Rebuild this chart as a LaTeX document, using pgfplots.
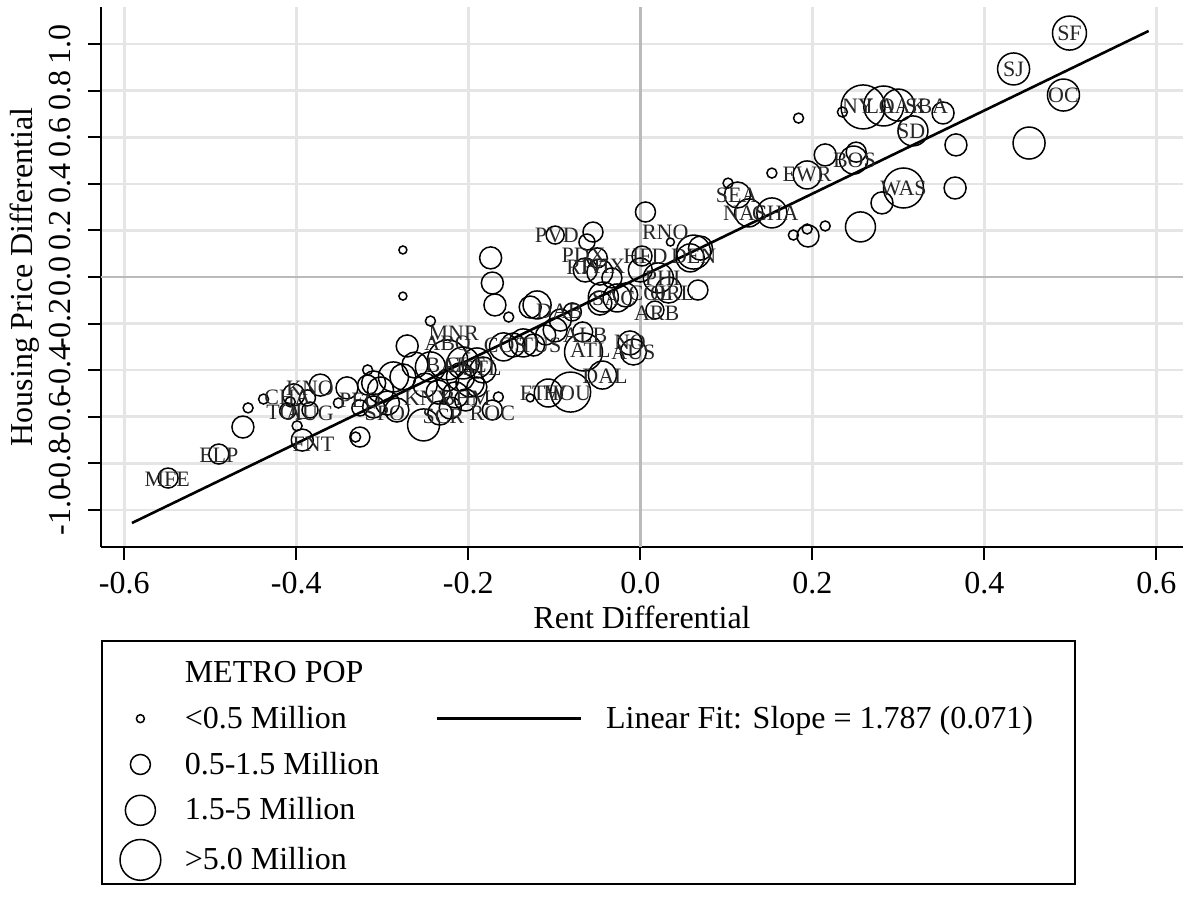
\documentclass[border=0pt]{standalone}
\usepackage{fontspec}
\setmainfont{Liberation Serif}
\usepackage{pgfplots}
\pgfplotsset{compat=1.18}
\usepackage{pgfplotstable}

\pgfplotstableread{
x y r
0.499 1.047 8.5
0.434 0.893 8
0.492 0.781 8
0.452 0.575 8
0.367 0.567 5.5
0.366 0.382 5.5
0.352 0.704 5.5
0.259 0.730 11
0.283 0.734 10
0.300 0.738 8
0.317 0.627 7.5
0.235 0.708 2.5
0.184 0.682 2.5
0.248 0.502 7
0.251 0.536 5
0.215 0.524 5.5
0.194 0.438 7
0.153 0.446 2.5
0.113 0.352 6.5
0.102 0.403 2.5
0.126 0.275 7
0.153 0.275 7.5
0.306 0.382 10
0.281 0.318 5.5
0.256 0.215 7.5
0.178 0.180 2.5
0.195 0.176 5.5
0.194 0.206 2.5
0.215 0.219 2.5
0.006 0.279 5
0.035 0.150 2
0.062 0.107 8.5
0.058 0.082 7
0.070 0.124 6
0.021 -0.004 7.5
0.067 -0.056 5
0.017 -0.142 4.5
-0.043 -0.086 7.5
-0.027 -0.090 7
-0.017 -0.077 6
-0.047 -0.112 6
0.033 -0.056 6.5
0.000 0.030 6
0.002 0.090 5
-0.099 0.180 4.5
-0.055 0.193 5
-0.062 0.150 4
-0.050 0.082 5
-0.064 0.030 6
-0.047 0.021 6.5
-0.033 -0.004 5
-0.174 0.082 5.5
-0.172 -0.026 5.5
-0.169 -0.120 5.5
-0.153 -0.172 2.5
-0.128 -0.129 5.5
-0.120 -0.120 7
-0.067 -0.236 5
-0.066 -0.322 9.5
-0.012 -0.283 6
-0.008 -0.322 6.5
-0.044 -0.421 7
-0.107 -0.498 7
-0.081 -0.494 10
-0.128 -0.519 2
-0.159 -0.300 7
-0.148 -0.292 6
-0.136 -0.283 7
-0.124 -0.292 5.5
-0.110 -0.249 5
-0.099 -0.227 6
-0.093 -0.185 5.5
-0.079 -0.150 4.5
-0.271 -0.296 5.5
-0.244 -0.189 2.5
-0.276 -0.082 2
-0.276 0.116 2
-0.244 -0.386 7.5
-0.224 -0.356 10
-0.206 -0.369 8
-0.190 -0.369 7.5
-0.183 -0.399 6.5
-0.209 -0.429 7
-0.224 -0.442 5.5
-0.198 -0.455 7
-0.190 -0.472 5
-0.165 -0.515 2.5
-0.172 -0.571 5
-0.233 -0.584 6
-0.252 -0.635 8
-0.221 -0.562 5.5
-0.317 -0.464 5
-0.310 -0.455 6
-0.302 -0.485 6.5
-0.287 -0.429 7.5
-0.276 -0.429 6.5
-0.317 -0.399 2.5
-0.294 -0.541 6
-0.283 -0.571 6
-0.310 -0.558 5.5
-0.326 -0.562 4
-0.326 -0.687 5
-0.331 -0.687 2.5
-0.341 -0.476 5.5
-0.351 -0.541 2.5
-0.372 -0.464 5.5
-0.387 -0.519 4
-0.403 -0.506 5.5
-0.407 -0.536 2.5
-0.399 -0.639 2.5
-0.393 -0.700 5.5
-0.438 -0.524 2.5
-0.456 -0.562 2.5
-0.462 -0.644 5.5
-0.490 -0.760 5
-0.549 -0.863 5
-0.410 -0.575 4
-0.384 -0.571 4
-0.262 -0.378 6.5
-0.250 -0.464 6
-0.235 -0.494 6
-0.215 -0.506 6.5
-0.203 -0.528 5.5
}\metros

\pgfplotstableread{
x y lab
0.499 1.047 SF
0.434 0.893 SJ
0.492 0.781 OC
0.253 0.734 NY
0.279 0.734 LA
0.305 0.734 OAK
0.333 0.734 SBA
0.315 0.627 SD
0.249 0.502 BOS
0.194 0.438 EWR
0.112 0.352 SEA
0.122 0.275 NAS
0.157 0.275 CHA
0.306 0.382 WAS
0.029 0.193 RNO
0.006 0.090 HFD
0.062 0.090 DEN
-0.097 0.180 PVD
-0.066 0.094 PDX
-0.064 0.039 RIV
-0.043 0.047 PHX
0.026 -0.004 PHI
0.012 -0.069 COL
0.037 -0.069 ORL
-0.031 -0.090 SAC
0.019 -0.155 ARB
-0.094 -0.146 DAB
-0.064 -0.249 ALB
-0.058 -0.313 ATL
-0.012 -0.279 NO
-0.008 -0.322 AUS
-0.041 -0.425 DAL
-0.113 -0.498 FTW
-0.085 -0.498 HOU
-0.217 -0.240 MNR
-0.224 -0.292 ABQ
-0.157 -0.292 COS
-0.116 -0.292 TUS
-0.224 -0.378 BAL
-0.203 -0.378 CLE
-0.184 -0.391 STL
-0.247 -0.519 KNX
-0.203 -0.519 BHM
-0.229 -0.597 SCR
-0.172 -0.584 ROC
-0.550 -0.867 MFE
-0.490 -0.764 ELP
-0.380 -0.717 FNT
-0.410 -0.515 CHA
-0.384 -0.476 KNO
-0.410 -0.579 TOL
-0.384 -0.584 AUG
-0.326 -0.528 PEO
-0.297 -0.584 SPO
}\labeltab

\begin{document}
\begin{tikzpicture}
\begin{axis}[
  at={(0pt,0pt)}, anchor=south west,
  scale only axis, width=541pt, height=270pt,
  xmin=-0.627, xmax=0.631, ymin=-1.159, ymax=1.159,
  axis x line*=bottom, axis y line*=left,
  axis line style={line width=1pt, -},
  xtick={-0.6,-0.4,-0.2,0,0.2,0.4,0.6},
  ytick={-1,-0.8,-0.6,-0.4,-0.2,0,0.2,0.4,0.6,0.8,1},
  tick align=outside, major tick length=6.5pt,
  tick style={line width=1pt, black},
  grid=major, major grid style={line width=1.3pt, color=black!10},
  /pgf/number format/assume math mode=true,
  /pgf/number format/fixed, /pgf/number format/fixed zerofill,
  /pgf/number format/precision=1,
  tick label style={font=\fontsize{16}{18}\selectfont},
  yticklabel style={rotate=90, anchor=south},
  yticklabel shift=5pt, xticklabel shift=2.5pt,
  xlabel={Rent Differential}, ylabel={Housing Price Differential},
  every axis x label/.style={at={(axis description cs:0.5,-0.1296)}, anchor=center, font=\fontsize{16}{18}\selectfont},
  every axis y label/.style={at={(axis description cs:-0.0702,0.5)}, anchor=center, rotate=90, font=\fontsize{16}{18}\selectfont},
  extra x ticks={0}, extra y ticks={0},
  extra x tick labels={}, extra y tick labels={},
  extra tick style={major grid style={line width=1.3pt, color=black!27}, major tick length=0pt},
  legend columns=2,
  legend cell align=left,
  legend style={at={(0,-0.172)}, anchor=north west, draw=black, line width=1pt,
    font=\fontsize{16}{18}\selectfont, row sep=6.3pt, inner xsep=9pt, inner ysep=2pt,
    /tikz/every even column/.append style={column sep=26pt},
    /tikz/every odd column/.append style={column sep=10pt}},
]
\addplot[black, line width=1.3pt, forget plot] coordinates {(-0.591,-1.056) (0.591,1.056)};
\addplot[scatter, only marks, mark=o, forget plot,
  scatter/use mapped color={draw=black},
  mark options={line width=0.75pt},
  visualization depends on={\thisrow{r} \as \rad},
  scatter/@pre marker code/.append style={/tikz/mark size=\rad},
  point meta=\thisrow{r}] table[x=x,y=y] {\metros};
\addplot[only marks, mark=none, forget plot,
  nodes near coords, point meta=explicit symbolic,
  nodes near coords align={center},
  nodes near coords style={font=\fontsize{11}{13}\selectfont, text=black!85, inner sep=0pt}]
  table[x=x,y=y,meta=lab] {\labeltab};

\addlegendimage{empty legend}\addlegendentry{\rule{0pt}{16.8pt}METRO POP}
\addlegendimage{empty legend}\addlegendentry{}
\addlegendimage{only marks, mark=o, mark size=2pt, mark options={line width=0.75pt}}\addlegendentry{<0.5 Million}
\addlegendimage{legend image code/.code={\draw[line width=1.3pt] (0pt,0pt) -- (72pt,0pt);}}\addlegendentry{Linear Fit: Slope = 1.787 (0.071)\hspace*{10pt}}
\addlegendimage{only marks, mark=o, mark size=5pt, mark options={line width=0.75pt}}\addlegendentry{0.5-1.5 Million}
\addlegendimage{empty legend}\addlegendentry{}
\addlegendimage{only marks, mark=o, mark size=7.5pt, mark options={line width=0.75pt}}\addlegendentry{1.5-5 Million}
\addlegendimage{empty legend}\addlegendentry{}
\addlegendimage{only marks, mark=o, mark size=10.2pt, mark options={line width=0.75pt}}\addlegendentry{>5.0 Million}
\addlegendimage{empty legend}\addlegendentry{}
\end{axis}
\pgfresetboundingbox
\path[use as bounding box] (-50.5pt,-175.5pt) rectangle (541pt,273.5pt);
\end{tikzpicture}
\end{document}
